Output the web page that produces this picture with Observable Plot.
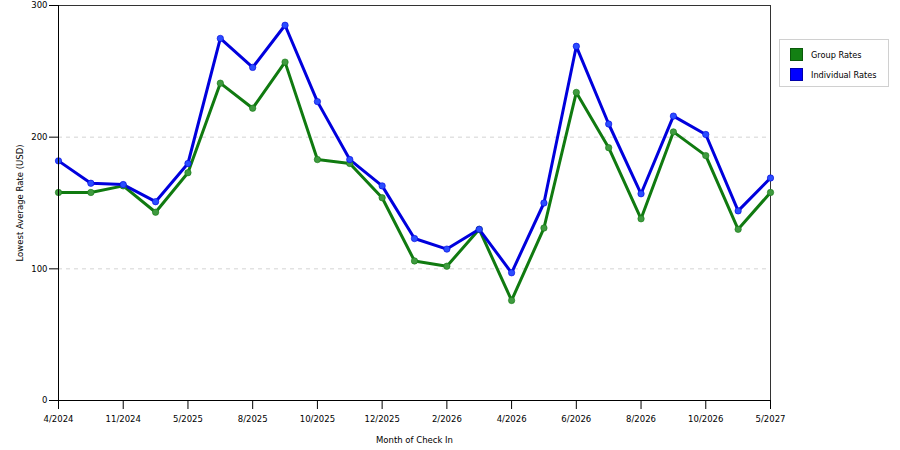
<!DOCTYPE html>
<html><head><meta charset="utf-8">
<script src="https://cdn.jsdelivr.net/npm/d3@7"></script>
<script src="https://cdn.jsdelivr.net/npm/@observablehq/plot@0.6"></script>
<style>
body{margin:0;background:#fff;font-family:"DejaVu Sans",sans-serif;}
#wrap{position:relative;width:900px;height:450px;}
#legend{position:absolute;left:779px;top:39px;width:108px;height:46px;border:1px solid #d0d0d0;background:#fff;font-size:8.2px;color:#000;}
.item{position:absolute;left:10px;display:flex;align-items:center;}
.sw{width:11px;height:11px;margin-right:8px;}
</style></head><body>
<div id="wrap"><div id="chart"></div><div id="legend"></div></div>
<script>
const months = ["4/2024","10/2024","11/2024","12/2024","5/2025","7/2025","8/2025","9/2025","10/2025","11/2025","12/2025","1/2026","2/2026","3/2026","4/2026","5/2026","6/2026","7/2026","8/2026","9/2026","10/2026","11/2026","5/2027"];
const groupRates = [158,158,163,143,173,241,222,257,183,180,154,106,102,130,76,131,234,192,138,204,186,130,158];
const individualRates = [182,165,164,151,180,275,253,285,227,183,163,123,115,130,97,150,269,210,157,216,202,144,169];
const tickLabels = ["4/2024","11/2024","5/2025","8/2025","10/2025","12/2025","2/2026","4/2026","6/2026","8/2026","10/2026","5/2027"];
const yTicks = [0,100,200,300];
const gridTicks = [100,200];
const seriesNames = ["Group Rates","Individual Rates"];
const seriesColors = ["#107a10","#0000dd"];
const dotFills = ["#3f9a3f","#2a4dff"];

const data = months.flatMap((m,i)=>[
  {month:m, rate:groupRates[i], series:seriesNames[0]},
  {month:m, rate:individualRates[i], series:seriesNames[1]}
]);

const chart = Plot.plot({
  width:900, height:450,
  marginLeft:58, marginRight:130, marginTop:5, marginBottom:50,
  style:{fontFamily:"DejaVu Sans, sans-serif", fontSize:"8px", color:"#000", background:"#fff", overflow:"visible"},
  x:{type:"point", domain:months, padding:0, round:false},
  y:{domain:[0,300]},
  color:{domain:seriesNames, range:seriesColors},
  marks:[
    Plot.gridY(gridTicks, {stroke:"#d4d4d4", strokeOpacity:1, strokeDasharray:"4,4"}),
    Plot.frame({stroke:"#333"}),
    Plot.line(data, {x:"month", y:"rate", z:"series", stroke:"series", strokeWidth:3}),
    Plot.dot(data, {x:"month", y:"rate", r:3.2, fill:d=>dotFills[seriesNames.indexOf(d.series)], stroke:"series", strokeWidth:1, strokeOpacity:0.6}),
    Plot.axisX({ticks:tickLabels, tickSize:9, tickPadding:6, label:"Month of Check In", labelAnchor:"center", labelArrow:"none", labelOffset:42, fontSize:8.5, stroke:"#000"}),
    Plot.axisY({ticks:yTicks, tickSize:9, tickPadding:2, label:"Lowest Average Rate (USD)", labelAnchor:"center", labelArrow:"none", labelOffset:42, fontSize:8.5, stroke:"#000"}),
    Plot.ruleY([0], {stroke:"#000"}),
    Plot.ruleX([months[0]], {stroke:"#000"})
  ]
});
document.getElementById("chart").appendChild(chart);

const legend = document.getElementById("legend");
seriesNames.forEach((name,i)=>{
  const it = document.createElement("div");
  it.className = "item";
  it.style.top = (8 + i*20) + "px";
  const sw = document.createElement("span");
  sw.className = "sw";
  sw.style.background = i === 0 ? "#138013" : "#0000ff";
  sw.style.border = "1px solid " + (i === 0 ? "#0a5a0a" : "#0000aa");
  it.appendChild(sw);
  const t = document.createElement("span");
  t.textContent = name;
  it.appendChild(t);
  legend.appendChild(it);
});
</script>
</body></html>
